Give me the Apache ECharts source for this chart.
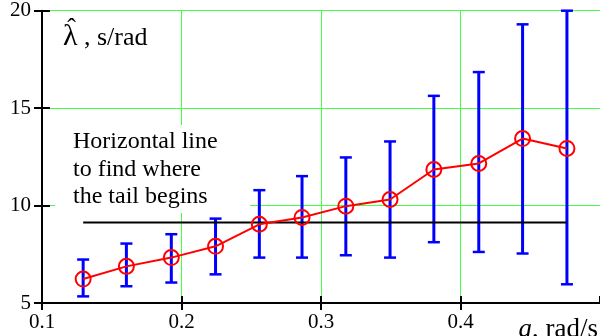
<!DOCTYPE html>
<html>
<head>
<meta charset="utf-8">
<script src="https://cdn.jsdelivr.net/npm/echarts@6/dist/echarts.min.js"></script>
<style>html,body{margin:0;padding:0;background:#fff}#c{width:600px;height:336px}</style>
</head>
<body>
<div id="c"></div>
<script>
// ---- data ----
const aValues = [0.1295, 0.1605, 0.1927, 0.2244, 0.2558, 0.2864, 0.3178, 0.3495, 0.3809, 0.4131, 0.4445, 0.4763];
const lambdaValues = [6.23, 6.88, 7.33, 7.91, 9.04, 9.39, 9.97, 10.31, 11.85, 12.16, 13.44, 12.93];
const upperValues = [7.23, 8.05, 8.53, 9.33, 10.79, 11.51, 12.47, 13.29, 15.63, 16.85, 19.3, 20.0];
const lowerValues = [5.34, 5.86, 6.05, 6.47, 7.33, 7.33, 7.45, 7.33, 8.12, 7.62, 7.54, 5.96];
const tailLineY = 9.13;
const tailLineX = [0.1295, 0.4763];
const xTicks = [0.1, 0.2, 0.3, 0.4, 0.5];
const yTicks = [5, 10, 15, 20];
const noteLines = ['Horizontal line', 'to find where', 'the tail begins'];

const FONT = 'Liberation Serif';
const chart = echarts.init(document.getElementById('c'), null, {renderer: 'canvas'});

const lineData = aValues.map((a, i) => [a, lambdaValues[i]]);
const errData = aValues.map((a, i) => [a, lowerValues[i], upperValues[i]]);

const gridCfg = {left: 42, top: 10.7, width: 560, height: 292.3, containLabel: false};

const baseX = {
  type: 'value', gridIndex: 0, min: xTicks[0], max: xTicks[xTicks.length - 1], interval: 0.1,
};
const baseY = {
  type: 'value', gridIndex: 0, min: yTicks[0], max: yTicks[yTicks.length - 1], interval: 5,
};

const option = {
  animation: false,
  backgroundColor: '#fff',
  textStyle: {fontFamily: FONT},
  grid: gridCfg,
  xAxis: [
    Object.assign({}, baseX, {
      position: 'bottom',
      axisLine: {show: true, onZero: false, lineStyle: {color: '#000', width: 2}},
      axisTick: {show: true, length: 7, lineStyle: {color: '#000', width: 2}},
      axisLabel: {show: true, margin: 9, color: '#000', fontFamily: FONT, fontSize: 21,
        showMaxLabel: false, formatter: v => (Math.abs(v - 0.5) < 1e-9 ? '' : v.toFixed(1))},
      splitLine: {show: true, lineStyle: {color: '#44ff44', width: 1}}
    }),
    Object.assign({}, baseX, {
      position: 'bottom',
      axisLine: {show: false, onZero: false},
      axisTick: {show: true, inside: true, length: 7, lineStyle: {color: '#000', width: 2}},
      axisLabel: {show: false},
      splitLine: {show: false}
    })
  ],
  yAxis: [
    Object.assign({}, baseY, {
      position: 'left',
      axisLine: {show: true, onZero: false, lineStyle: {color: '#000', width: 2}},
      axisTick: {show: true, length: 8, lineStyle: {color: '#000', width: 2}},
      axisLabel: {show: true, margin: 11, color: '#000', fontFamily: FONT, fontSize: 21},
      splitLine: {show: true, lineStyle: {color: '#44ff44', width: 1}}
    }),
    Object.assign({}, baseY, {
      position: 'left',
      axisLine: {show: false, onZero: false},
      axisTick: {show: true, inside: true, length: 8, lineStyle: {color: '#000', width: 2}},
      axisLabel: {show: false},
      splitLine: {show: false}
    })
  ],
  graphic: [
    {type: 'rect', z: 1, shape: {x: 55, y: 125, width: 195, height: 88}, style: {fill: '#fff'}},
    {type: 'text', z: 10, x: 73, y: 142, style: {text: noteLines[0], fontFamily: FONT, fontSize: 24, fill: '#000', verticalAlign: 'middle'}},
    {type: 'text', z: 10, x: 73, y: 170, style: {text: noteLines[1], fontFamily: FONT, fontSize: 24, fill: '#000', verticalAlign: 'middle'}},
    {type: 'text', z: 10, x: 73, y: 197, style: {text: noteLines[2], fontFamily: FONT, fontSize: 24, fill: '#000', verticalAlign: 'middle'}},
    {type: 'text', z: 10, x: 63, y: 37, style: {text: '\u03BB', fontFamily: FONT, fontSize: 30, fill: '#000', verticalAlign: 'middle'}},
    {type: 'text', z: 10, x: 71.5, y: 29, style: {text: '\u02C6', fontFamily: FONT, fontSize: 26, fill: '#000', align: 'center', verticalAlign: 'middle'}},
    {type: 'text', z: 10, x: 84, y: 38, style: {text: ', s/rad', fontFamily: FONT, fontSize: 26, fill: '#000', verticalAlign: 'middle'}},
    {type: 'text', z: 10, x: 598, y: 330, style: {
      text: '{i|a}{s|, rad/s}', fill: '#000', align: 'right', verticalAlign: 'middle',
      rich: {i: {fontFamily: FONT, fontSize: 27, fontStyle: 'italic', fill: '#000'}, s: {fontFamily: FONT, fontSize: 27, fill: '#000'}}
    }}
  ],
  series: [
    {
      type: 'custom', xAxisIndex: 0, yAxisIndex: 0, z: 3, clip: false,
      data: errData,
      renderItem: function (params, api) {
        const x = api.value(0);
        const lo = api.coord([x, api.value(1)]);
        const hi = api.coord([x, api.value(2)]);
        const hw = 6;
        const st = {stroke: '#0000ff', lineWidth: 3};
        const cs = {stroke: '#0000ff', lineWidth: 2.5};
        return {type: 'group', children: [
          {type: 'line', shape: {x1: lo[0], y1: lo[1], x2: hi[0], y2: hi[1]}, style: st},
          {type: 'line', shape: {x1: lo[0] - hw, y1: lo[1], x2: lo[0] + hw, y2: lo[1]}, style: cs},
          {type: 'line', shape: {x1: hi[0] - hw, y1: hi[1], x2: hi[0] + hw, y2: hi[1]}, style: cs}
        ]};
      }
    },
    {
      type: 'line', xAxisIndex: 0, yAxisIndex: 0, z: 4,
      data: tailLineX.map(x => [x, tailLineY]),
      symbol: 'none', lineStyle: {color: '#000', width: 2}
    },
    {
      type: 'line', xAxisIndex: 0, yAxisIndex: 0, z: 5,
      data: lineData,
      symbol: 'circle', symbolSize: 15,
      itemStyle: {color: 'rgba(0,0,0,0)', borderColor: '#ff0000', borderWidth: 2},
      lineStyle: {color: '#ff0000', width: 2}
    }
  ]
};
chart.setOption(option);
</script>
</body>
</html>
